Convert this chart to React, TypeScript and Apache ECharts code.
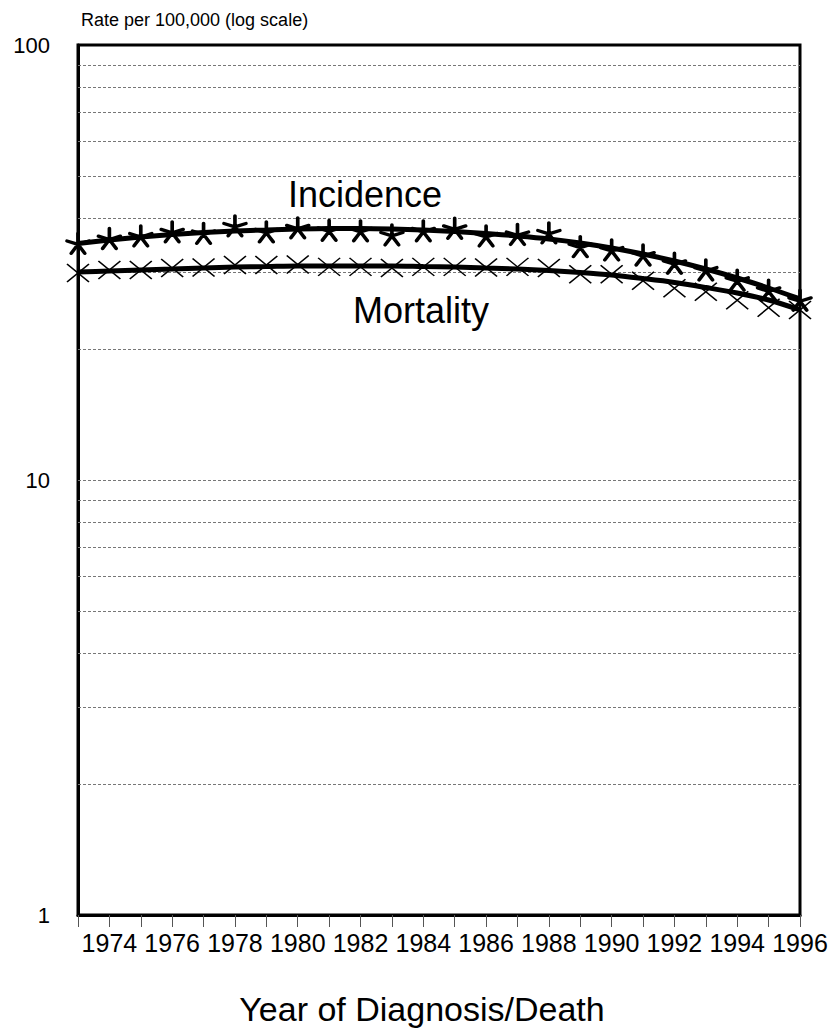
import React, { useEffect, useRef } from "react";
import * as echarts from "echarts";

const years = [
  "1973", "1974", "1975", "1976", "1977", "1978", "1979", "1980", "1981", "1982", "1983", "1984",
  "1985", "1986", "1987", "1988", "1989", "1990", "1991", "1992", "1993", "1994", "1995", "1996",
];

const incidenceObserved = [
  35.0, 35.9, 36.4, 37.2, 36.9, 38.4, 37.2, 38.0, 37.5, 37.4, 36.6, 37.4,
  37.9, 36.4, 36.7, 37.0, 34.4, 33.8, 32.9, 31.5, 30.4, 28.8, 27.3, 25.9,
];

const incidenceFitted = [
  34.98, 35.63, 36.2, 36.68, 37.07, 37.36, 37.56, 37.76, 37.86, 37.86, 37.76, 37.56,
  37.26, 36.87, 36.39, 35.82, 35.07, 34.15, 33.07, 31.87, 30.55, 29.13, 27.63, 26.07,
];

const mortalityObserved = [
  29.9, 30.4, 30.4, 30.7, 30.8, 31.2, 31.2, 31.3, 30.9, 30.9, 30.7, 30.9,
  30.9, 30.8, 30.9, 30.7, 29.7, 29.7, 28.7, 27.6, 27.1, 25.9, 24.9, 24.6,
];

const mortalityFitted = [
  30.07, 30.23, 30.39, 30.55, 30.72, 30.88, 30.96, 31.05, 31.05, 31.05, 31.05, 30.96,
  30.88, 30.72, 30.55, 30.31, 29.99, 29.6, 29.05, 28.45, 27.7, 26.91, 25.93, 24.6,
];

const gridValues = [2, 3, 4, 5, 6, 7, 8, 9, 10, 20, 30, 40, 50, 60, 70, 80, 90];

const yTickLabels = [1, 10, 100];

const asteriskPath =
  "path://M10 10 L10 0 M10 10 L19.51 6.91 M10 10 L15.88 18.09 M10 10 L4.12 18.09 M10 10 L0.49 6.91";
const crossPath = "path://M0 0 L22 18 M22 0 L0 18";

const FONT = "Liberation Sans, Arial, sans-serif";

export default function App() {
  const ref = useRef<HTMLDivElement>(null);
  useEffect(() => {
    if (!ref.current) return;
    const chart = echarts.init(ref.current, undefined, { renderer: "svg" });
    chart.setOption({
      animation: false,
      backgroundColor: "#fff",
      textStyle: { fontFamily: FONT },
      grid: {
        left: 78,
        right: 35,
        top: 45,
        bottom: 114,
        show: true,
        borderColor: "#000",
        borderWidth: 3,
      },
      xAxis: {
        type: "category",
        data: years,
        boundaryGap: false,
        axisLine: { show: true, lineStyle: { color: "#000", width: 3 } },
        axisTick: {
          show: true,
          interval: 0,
          length: 12,
          lineStyle: { color: "#555", width: 1 },
        },
        axisLabel: {
          interval: 0,
          hideOverlap: false,
          showMinLabel: true,
          showMaxLabel: true,
          formatter: (v: string, i: number) => (i % 2 === 1 ? v : ""),
          color: "#000",
          fontSize: 25,
          fontFamily: FONT,
          margin: 15,
        },
        splitLine: { show: false },
      },
      yAxis: {
        type: "log",
        logBase: 10,
        min: 1,
        max: 100,
        axisLine: { show: true, lineStyle: { color: "#000", width: 3 } },
        axisTick: { show: false },
        axisLabel: {
          color: "#000",
          fontSize: 22,
          margin: 28,
          formatter: (v: number) => (yTickLabels.includes(Math.round(v)) ? String(Math.round(v)) : ""),
        },
        splitLine: { show: false },
      },
      graphic: [
        {
          type: "text",
          left: 81,
          top: 11,
          style: { text: "Rate per 100,000 (log scale)", fontSize: 18, fill: "#000", fontFamily: FONT },
        },
        {
          type: "text",
          x: 365,
          y: 194,
          style: { text: "Incidence", fontSize: 36, fill: "#000", align: "center", verticalAlign: "middle", fontFamily: FONT },
        },
        {
          type: "text",
          x: 421,
          y: 310,
          style: { text: "Mortality", fontSize: 36, fill: "#000", align: "center", verticalAlign: "middle", fontFamily: FONT },
        },
        {
          type: "text",
          x: 422,
          y: 1009,
          style: { text: "Year of Diagnosis/Death", fontSize: 34, fill: "#000", align: "center", verticalAlign: "middle", fontFamily: FONT },
        },
      ],
      series: [
        {
          name: "Incidence trend",
          type: "line",
          data: incidenceFitted,
          smooth: 0.3,
          showSymbol: false,
          symbol: "none",
          lineStyle: { color: "#000", width: 5 },
          z: 3,
          markLine: {
            silent: true,
            symbol: "none",
            label: { show: false },
            lineStyle: { color: "#777", width: 1, type: [3, 2] },
            data: gridValues.map((v) => ({ yAxis: v })),
            z: 1,
          },
        },
        {
          name: "Mortality trend",
          type: "line",
          data: mortalityFitted,
          smooth: 0.3,
          showSymbol: false,
          symbol: "none",
          lineStyle: { color: "#000", width: 5 },
          z: 3,
        },
        {
          name: "Incidence",
          type: "scatter",
          data: incidenceObserved,
          symbol: asteriskPath,
          symbolSize: [22, 20],
          itemStyle: { color: "#000", borderColor: "#000", borderWidth: 3.5, borderCap: "round", opacity: 1 },
          z: 4,
        },
        {
          name: "Mortality",
          type: "scatter",
          data: mortalityObserved,
          symbol: crossPath,
          symbolSize: [22, 18],
          itemStyle: { color: "#000", borderColor: "#000", borderWidth: 1.5, opacity: 1 },
          z: 4,
        },
      ],
    });
    return () => chart.dispose();
  }, []);
  return (
    <div
      ref={ref}
      style={{ position: "absolute", left: 0, top: 0, width: 835, height: 1029 }}
    />
  );
}
